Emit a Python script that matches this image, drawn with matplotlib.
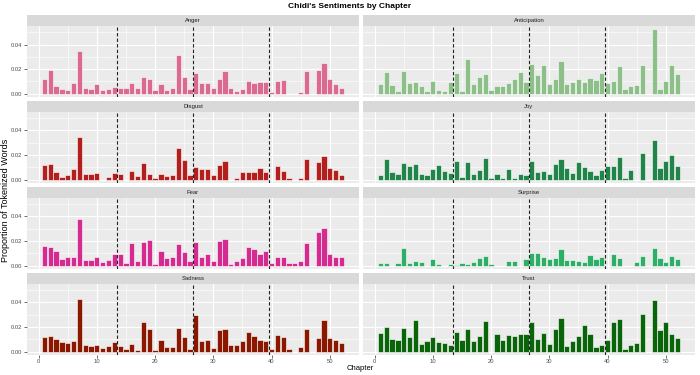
import numpy as np
import matplotlib
matplotlib.use("Agg")
import matplotlib.pyplot as plt
from matplotlib.ticker import MultipleLocator

plt.rcParams['font.family'] = ['Liberation Sans', 'DejaVu Sans']

nan = np.nan
chapters = np.arange(1, 53)

anger = [0.012, 0.0195, 0.0062, 0.0038, 0.0027, 0.0084, 0.035, 0.0046, 0.004, 0.0076,
         0.0032, 0.0043, 0.0054, 0.0046, 0.0046, 0.0086, 0.0046, 0.0135, 0.012, 0.003,
         0.0078, 0.003, 0.0051, 0.0316, 0.0135, 0.0038, 0.0173, 0.0086, 0.009, 0.0051,
         0.012, 0.0184, 0.0046, 0.0024, 0.004, 0.0108, 0.0089, 0.0097, 0.0099, 0.0016,
         0.0103, 0.0114, nan, nan, 0.0016, 0.0184, nan, 0.0197, 0.0254, 0.0122,
         0.0078, 0.0049]
anticipation = [0.0076, 0.018, 0.0073, 0.0024, 0.0189, 0.0084, 0.0097, 0.0062, 0.0022, 0.0105,
                0.003, 0.0024, 0.0092, 0.017, 0.0022, 0.0281, 0.0081, 0.0135, 0.0157, 0.003,
                0.0062, 0.006, 0.0089, 0.0122, 0.018, 0.0095, 0.024, 0.0151, 0.0238, 0.0078,
                0.012, 0.0265, 0.0078, 0.0097, 0.012, 0.0092, 0.013, 0.0114, 0.0168, 0.0089,
                0.01, 0.0224, 0.0035, 0.0065, 0.007, 0.0235, nan, 0.0524, 0.0043, 0.0108,
                0.0238, 0.016]
disgust = [0.0119, 0.0127, 0.006, 0.0024, 0.0038, 0.0084, 0.0349, 0.0043, 0.0043, 0.0051,
           nan, 0.0019, 0.0054, 0.0043, nan, 0.0073, 0.0032, 0.0135, 0.0046, 0.0011,
           0.0049, 0.0027, 0.0035, 0.026, 0.0157, 0.0035, 0.0103, 0.0084, 0.0089, 0.0038,
           0.0119, 0.0149, nan, 0.0011, 0.006, 0.006, 0.006, 0.0095, 0.0065, nan,
           0.0114, 0.0073, 0.0016, nan, 0.0016, 0.0165, nan, 0.014, 0.019, 0.0092,
           0.0076, 0.004]
joy = [0.0035, 0.0165, 0.006, 0.0046, 0.0135, 0.0114, 0.0124, 0.0043, 0.0038, 0.0089,
       0.0116, 0.0068, 0.0054, 0.0151, 0.0019, 0.0146, 0.0043, 0.0078, 0.0173, 0.0011,
       0.0049, 0.0014, 0.0086, 0.0011, 0.0043, 0.0035, 0.0151, 0.0065, 0.0068, 0.0046,
       0.013, 0.0165, 0.0095, 0.0057, 0.014, 0.0105, 0.007, 0.0035, 0.0078, 0.0108,
       0.0114, 0.0186, 0.0016, 0.0078, nan, 0.0216, nan, 0.0324, 0.0095, 0.0151,
       0.0203, 0.0108]
fear = [0.016, 0.0155, 0.0118, 0.0052, 0.007, 0.0072, 0.038, 0.0048, 0.0045, 0.0066,
        0.003, 0.0045, 0.0095, 0.0093, 0.0025, 0.018, 0.0035, 0.0193, 0.021, 0.0012,
        0.012, 0.006, 0.0066, 0.0178, 0.0112, 0.004, 0.019, 0.007, 0.0093, 0.0035,
        0.0198, 0.0215, 0.0015, 0.0035, 0.006, 0.0155, 0.0135, 0.0097, 0.0118, 0.0018,
        0.0066, 0.0066, 0.0018, 0.0018, 0.0035, 0.0185, nan, 0.0272, 0.0305, 0.0093,
        0.0066, 0.0066]
surprise = [0.0025, 0.0025, nan, 0.0025, 0.014, 0.0025, 0.0038, 0.003, nan, 0.005,
            0.0011, nan, 0.0016, 0.0008, 0.0019, 0.0011, 0.003, 0.0065, 0.0082, 0.0011,
            nan, nan, 0.0035, 0.0035, nan, 0.0057, 0.01, 0.01, 0.007, 0.0052,
            0.0065, 0.0133, 0.0046, 0.0046, 0.004, 0.0027, 0.009, 0.0054, 0.0068, nan,
            0.0095, 0.0062, nan, nan, 0.0033, 0.0082, nan, 0.0144, 0.0063, 0.0027,
            0.0076, 0.0054]
sadness = [0.012, 0.0128, 0.0101, 0.0079, 0.0068, 0.0084, 0.0424, 0.0049, 0.0044, 0.0052,
           0.003, 0.0044, 0.0076, 0.0046, 0.0024, 0.006, 0.0011, 0.0237, 0.0185, 0.0016,
           0.0093, 0.0033, 0.0038, 0.019, 0.0114, 0.0019, 0.0297, 0.0087, 0.0093, 0.0027,
           0.0174, 0.0182, 0.0049, 0.0049, 0.0084, 0.0155, 0.0122, 0.0095, 0.0084, 0.0019,
           0.0133, 0.0114, 0.0019, nan, 0.0035, 0.0185, nan, 0.0109, 0.0256, 0.0109,
           0.0095, 0.0068]
trust = [0.0147, 0.0196, 0.0101, 0.0093, 0.0193, 0.0117, 0.0256, 0.0063, 0.0087, 0.012,
         0.0076, 0.0068, 0.0054, 0.0158, 0.0093, 0.018, 0.0084, 0.0125, 0.0248, nan,
         0.0144, 0.0093, 0.0133, 0.0125, 0.0139, 0.0139, 0.0242, 0.0103, 0.015, 0.0065,
         0.0185, 0.0269, 0.0046, 0.0084, 0.0125, 0.0215, 0.0139, 0.0038, 0.0049, 0.0093,
         0.0237, 0.0264, 0.0019, 0.0049, 0.0071, 0.0305, nan, 0.0416, 0.0174, 0.0237,
         0.0141, 0.0109]

emotions = ["Anger", "Anticipation", "Disgust", "Joy", "Fear", "Surprise", "Sadness", "Trust"]
series = [anger, anticipation, disgust, joy, fear, surprise, sadness, trust]
colors = ["#DA6A8F", "#8DBF89", "#B21F1D", "#218449", "#D42B90", "#2EAE66", "#8A1800", "#0A640A"]
season_breaks = [13.5, 26.5, 39.5]

W, H = 700, 375
fig = plt.figure(figsize=(7, 3.75), dpi=100)
fig.patch.set_facecolor("white")

col_left = [26.7, 362.7]
col_w = 332.5
row_top = 15.0
row_pitch = 85.9
strip_h = 11.0
panel_h = 71.0

for i, (name, vals, c) in enumerate(zip(emotions, series, colors)):
    r, k = i // 2, i % 2
    x0 = col_left[k]
    st = row_top + r * row_pitch
    pt = st + strip_h
    ax = fig.add_axes([x0 / W, 1 - (pt + panel_h) / H, col_w / W, panel_h / H])
    sx = fig.add_axes([x0 / W, 1 - pt / H, col_w / W, strip_h / H])
    sx.set_facecolor("#D9D9D9")
    sx.set_xticks([])
    sx.set_yticks([])
    for s in sx.spines.values():
        s.set_visible(False)
    sx.text(0.5, 0.5, name, ha="center", va="center", fontsize=4.2, color="#1A1A1A")

    ax.set_facecolor("#EBEBEB")
    ax.set_xlim(-2.05, 55.05)
    ax.set_ylim(-0.0026, 0.0551)
    ax.xaxis.set_major_locator(MultipleLocator(10))
    ax.xaxis.set_minor_locator(MultipleLocator(5))
    ax.yaxis.set_major_locator(MultipleLocator(0.02))
    ax.yaxis.set_minor_locator(MultipleLocator(0.01))
    ax.grid(which="major", color="white", lw=0.8)
    ax.grid(which="minor", color="white", lw=0.4)
    ax.set_axisbelow(True)
    for s in ax.spines.values():
        s.set_visible(False)
    ax.bar(chapters, vals, width=0.9, color=c, edgecolor="white", linewidth=0.4)
    for b in season_breaks:
        ax.axvline(b, color="#222222", lw=0.8, ls=(0, (3, 2)))
    ax.tick_params(which="both", length=0)
    ax.tick_params(which="major", labelsize=4.2, labelcolor="#4D4D4D", color="#333333",
                   pad=1.2, width=0.5)
    if k == 0:
        ax.tick_params(axis="y", which="major", length=2)
        ax.yaxis.set_major_formatter(lambda v, p: "%.2f" % v)
    else:
        ax.set_yticklabels([])
    if r == 3:
        ax.tick_params(axis="x", which="major", length=2)
    else:
        ax.set_xticklabels([])

fig.text(0.5, 1 - 7 / H, "Chidi's Sentiments by Chapter", ha="center", va="center",
         fontsize=6, fontweight="bold")
fig.text(360 / W, 1 - 368 / H, "Chapter", ha="center", va="center", fontsize=5.5)
fig.text(5.5 / W, 1 - 200 / H, "Proportion of Tokenized Words", ha="center", va="center",
         rotation=90, fontsize=6.5)

fig.savefig("out.png", dpi=100)
